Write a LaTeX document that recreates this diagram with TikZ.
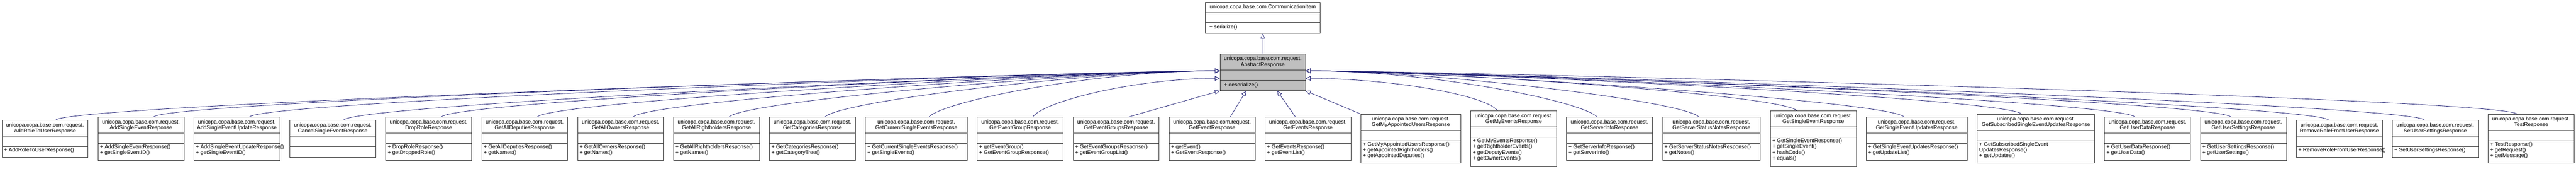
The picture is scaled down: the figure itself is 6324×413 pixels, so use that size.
\documentclass[tikz,border=0pt]{standalone}
\usepackage{fontspec}
\setmainfont{Liberation Sans}
\usetikzlibrary{arrows.meta,backgrounds,positioning}
\definecolor{edgeblue}{RGB}{25,25,112}
\tikzset{
    cls/.style={
           rectangle,
           draw=black!80, line width=0.5pt,
           fill=white,
           inner sep=0pt,
           },
    txt/.style={
           inner sep=0pt,
           font=\fontsize{6.6}{7}\selectfont,
           align=center,},
    meth/.style={txt, align=left, anchor=north west},
    sep/.style={draw=black!80, line width=0.5pt},
    inh/.style={
           draw=edgeblue,
           line width=0.5pt,
           -{Triangle[open, fill=white, length=6pt, width=5.5pt]},}
}
% class box: name, x centre, width, height, class name, methods
\newcommand{\umlclass}[6]{%
  \node[cls, minimum width=#3*0.5pt, minimum height=#4*0.5pt] (#1) at (#2,339.5) {};
  \draw[sep] (#1.north west) ++(0,40) -- ++(#3,0);
  \draw[sep] (#1.north west) ++(0,65) -- ++(#3,0);
  \node[txt] at ([yshift=-10pt]#1.north) {unicopa.copa.base.com.request.\\#5};
  \node[meth] at ([shift={(2.5pt,-34pt)}]#1.north west) {#6};
}

\begin{document}
\begin{tikzpicture}[x=0.5pt,y=-0.5pt]
\useasboundingbox (0,0) rectangle (6324,413);
% BASE CLASSES
\node[cls, minimum width=141pt, minimum height=38.5pt] (CI) at (3100,43.5) {};
\draw[sep] (CI.north west) ++(0,26) -- ++(282,0);
\draw[sep] (CI.north west) ++(0,51) -- ++(282,0);
\node[txt] at ([yshift=-6.5pt]CI.north) {unicopa.copa.base.com.CommunicationItem};
\node[meth] at ([shift={(5pt,-28pt)}]CI.north west) {+ serialize()};
\node[cls, fill=black!25, minimum width=105pt, minimum height=45pt] (AR) at (3100,177) {};
\draw[sep] (AR.north west) ++(0,40) -- ++(210,0);
\draw[sep] (AR.north west) ++(0,65) -- ++(210,0);
\node[txt] at ([yshift=-10pt]AR.north) {unicopa.copa.base.com.request.\\AbstractResponse};
\node[meth] at ([shift={(5pt,-35pt)}]AR.north west) {+ deserialize()};
% RESPONSE CLASSES
\umlclass{AddRoleToUser}{110.5}{211}{91}{AddRoleToUserResponse}{+ AddRoleToUserResponse()}
\umlclass{AddSingleEvent}{346}{211}{106}{AddSingleEventResponse}{+ AddSingleEventResponse()\\+ getSingleEventID()}
\umlclass{AddSingleEventUpdate}{581.5}{211}{106}{AddSingleEventUpdateResponse}{+ AddSingleEventUpdateResponse()\\+ getSingleEventID()}
\umlclass{CancelSingleEvent}{817}{211}{91}{CancelSingleEventResponse}{}
\umlclass{DropRole}{1052.5}{211}{106}{DropRoleResponse}{+ DropRoleResponse()\\+ getDroppedRole()}
\umlclass{GetAllDeputies}{1288}{211}{106}{GetAllDeputiesResponse}{+ GetAllDeputiesResponse()\\+ getNames()}
\umlclass{GetAllOwners}{1523.5}{211}{106}{GetAllOwnersResponse}{+ GetAllOwnersResponse()\\+ getNames()}
\umlclass{GetAllRightholders}{1759}{211}{106}{GetAllRightholdersResponse}{+ GetAllRightholdersResponse()\\+ getNames()}
\umlclass{GetCategories}{1994.5}{211}{106}{GetCategoriesResponse}{+ GetCategoriesResponse()\\+ getCategoryTree()}
\umlclass{GetCurrentSingleEvents}{2249.5}{250}{106}{GetCurrentSingleEventsResponse}{+ GetCurrentSingleEventsResponse()\\+ getSingleEvents()}
\umlclass{GetEventGroup}{2504.5}{211}{106}{GetEventGroupResponse}{+ getEventGroup()\\+ GetEventGroupResponse()}
\umlclass{GetEventGroups}{2740}{211}{106}{GetEventGroupsResponse}{+ GetEventGroupsResponse()\\+ getEventGroupList()}
\umlclass{GetEvent}{2975.5}{211}{106}{GetEventResponse}{+ getEvent()\\+ GetEventResponse()}
\umlclass{GetEvents}{3211}{211}{106}{GetEventsResponse}{+ GetEventsResponse()\\+ getEventList()}
\umlclass{GetMyAppointedUsers}{3463.5}{245}{120}{GetMyAppointedUsersResponse}{+ GetMyAppointedUsersResponse()\\+ getAppointedRightholders()\\+ getAppointedDeputies()}
\umlclass{GetMyEvents}{3716}{211}{136}{GetMyEventsResponse}{+ GetMyEventsResponse()\\+ getRightholderEvents()\\+ getDeputyEvents()\\+ getOwnerEvents()}
\umlclass{GetServerInfo}{3951.5}{211}{106}{GetServerInfoResponse}{+ GetServerInfoResponse()\\+ getServerInfo()}
\umlclass{GetServerStatusNotes}{4201.5}{240}{106}{GetServerStatusNotesResponse}{+ GetServerStatusNotesResponse()\\+ getNotes()}
\umlclass{GetSingleEvent}{4451.5}{211}{136}{GetSingleEventResponse}{+ GetSingleEventResponse()\\+ getSingleEvent()\\+ hashCode()\\+ equals()}
\umlclass{GetSingleEventUpdates}{4705.5}{248}{106}{GetSingleEventUpdatesResponse}{+ GetSingleEventUpdatesResponse()\\+ getUpdateList()}
\umlclass{GetSubscribedSingleEventUpdates}{4998}{288}{120}{GetSubscribedSingleEventUpdatesResponse}{+ GetSubscribedSingleEvent\\UpdatesResponse()\\+ getUpdates()}
\umlclass{GetUserData}{5272}{211}{106}{GetUserDataResponse}{+ GetUserDataResponse()\\+ getUserData()}
\umlclass{GetUserSettings}{5507.5}{211}{106}{GetUserSettingsResponse}{+ GetUserSettingsResponse()\\+ getUserSettings()}
\umlclass{RemoveRoleFromUser}{5743}{211}{91}{RemoveRoleFromUserResponse}{+ RemoveRoleFromUserResponse()}
\umlclass{SetUserSettings}{5978.5}{211}{91}{SetUserSettingsResponse}{+ SetUserSettingsResponse()}
\umlclass{Test}{6214}{211}{120}{TestResponse}{+ TestResponse()\\+ getRequest()\\+ getMessage()}
% Draw lines on graph
\begin{scope}[on background layer]
\draw[inh] (AR) -- (CI);
\foreach \c in {AddRoleToUser,AddSingleEvent,AddSingleEventUpdate,CancelSingleEvent,DropRole,
  GetAllDeputies,GetAllOwners,GetAllRightholders,GetCategories,GetCurrentSingleEvents}
  \draw[inh] (\c.60) .. controls +(40,-40) and +(-300,0) .. (AR.178);
\draw[inh] (GetEventGroup.60) .. controls +(30,-40) and +(-200,0) .. (AR.188);
\draw[inh] (GetEventGroups.60) -- (AR.south west);
\draw[inh] (GetEvent.50) -- (AR.228);
\draw[inh] (GetEvents.120) -- (AR.308);
\draw[inh] (GetMyAppointedUsers.north west) -- (AR.south east);
\draw[inh] (GetMyEvents.120) .. controls +(-30,-40) and +(200,0) .. (AR.352);
\foreach \c in {GetServerInfo,GetServerStatusNotes,GetSingleEvent,GetSingleEventUpdates,
  GetSubscribedSingleEventUpdates,GetUserData,GetUserSettings,RemoveRoleFromUser,SetUserSettings,Test}
  \draw[inh] (\c.120) .. controls +(-40,-40) and +(300,0) .. (AR.2);
\end{scope}
\end{tikzpicture}
\end{document}
